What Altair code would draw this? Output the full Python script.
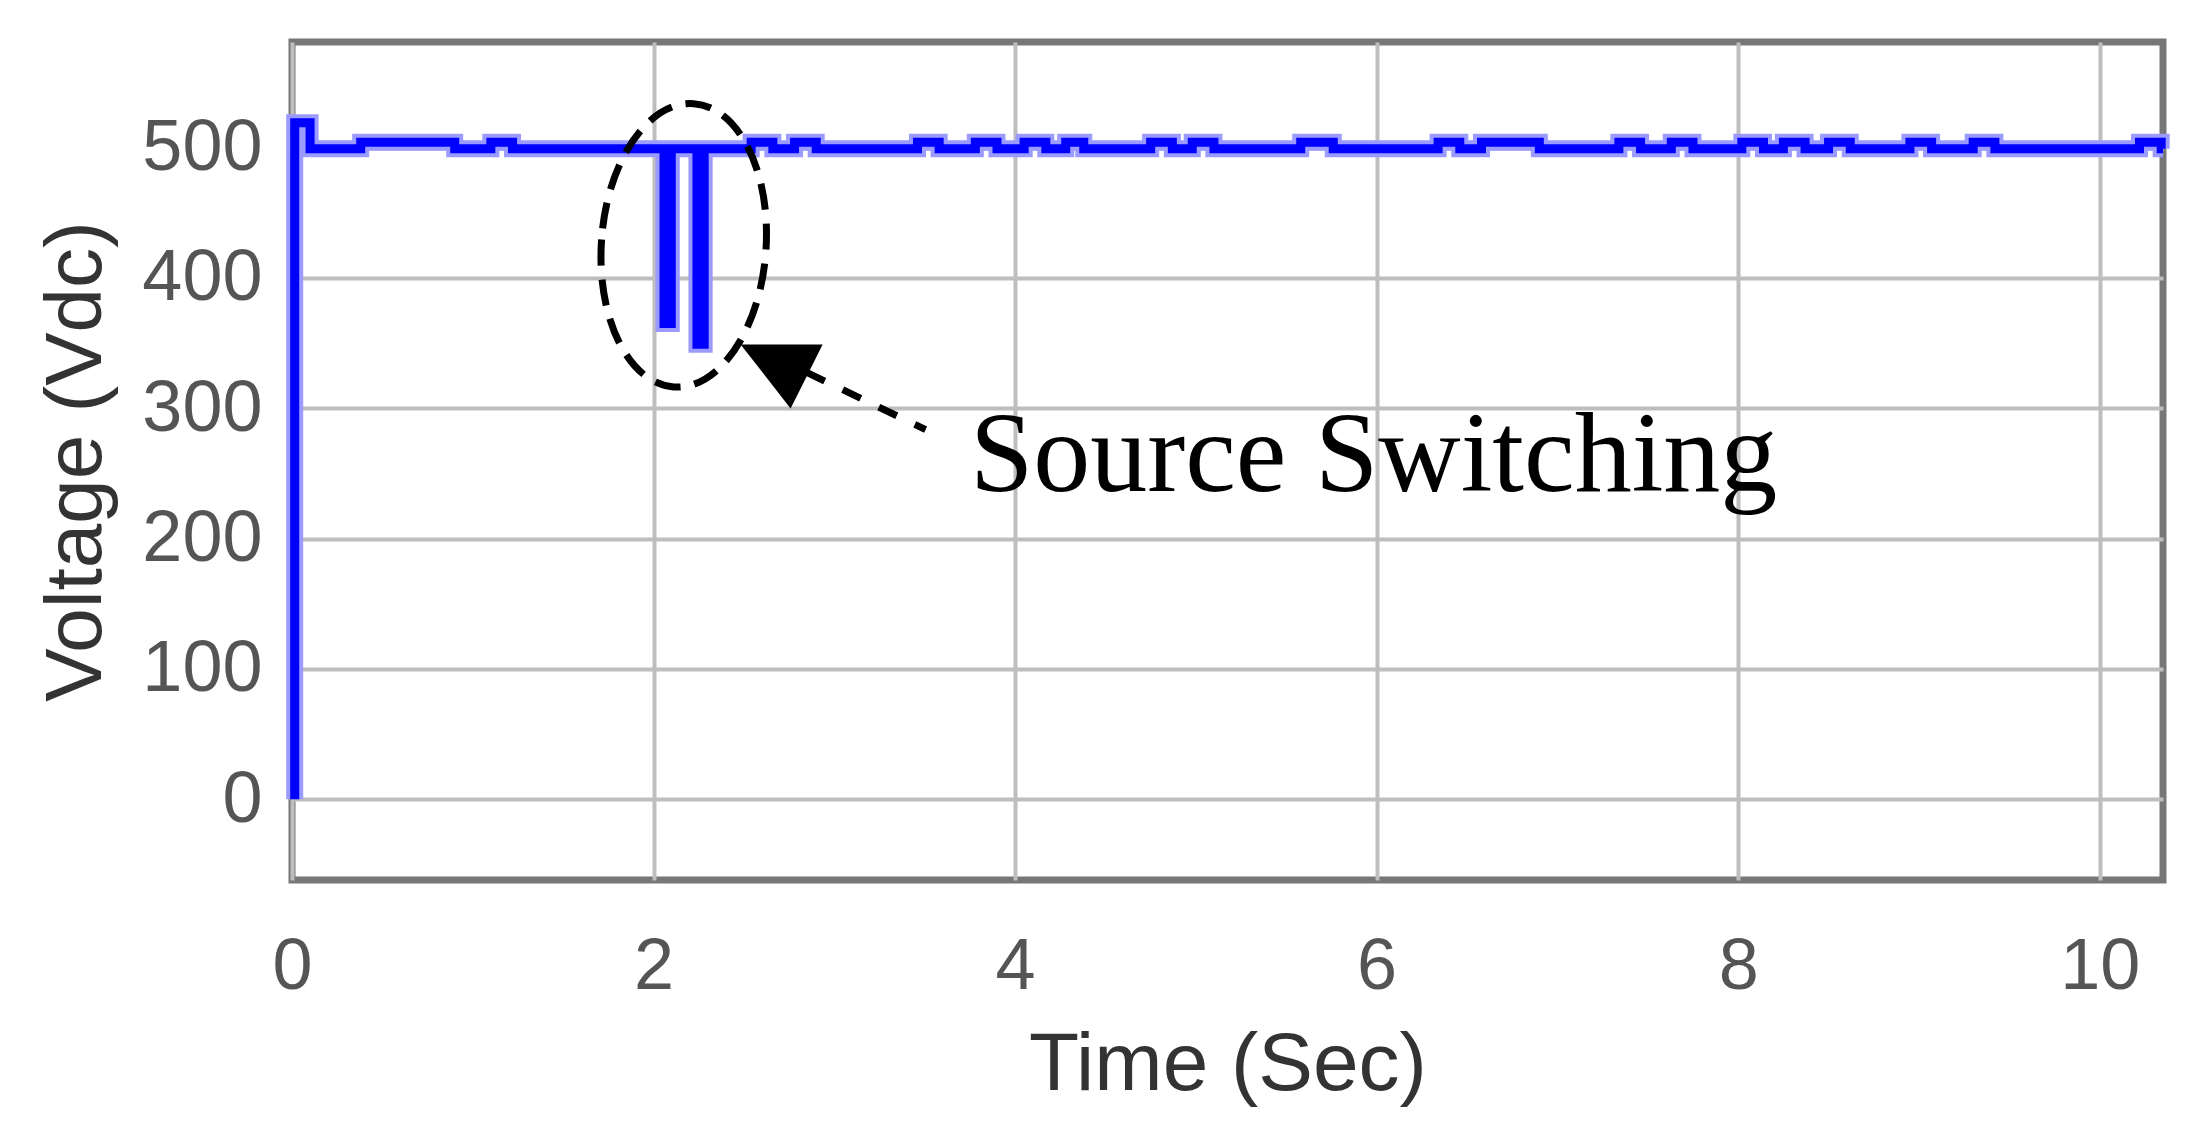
import altair as alt
import pandas as pd

# ---------------- data ----------------
x_ticks = [0, 2, 4, 6, 8, 10]
y_ticks = [0, 100, 200, 300, 400, 500]

# start-up: rise from 0 V to an overshoot, then settle
rise_t = [0.015, 0.015, 0.10, 0.10]
rise_v = [0, 519, 519, 499]
base_v = 499
t_end = 10.35

# small ripple bumps on the DC level (start, end) in seconds
bump_start = [0.38, 1.10, 2.54, 2.78, 3.46, 3.78, 4.05, 4.28, 4.75, 4.98,
              5.58, 6.34, 6.58, 7.34, 7.63, 8.02, 8.25, 8.50, 8.95, 9.30, 10.22]
bump_end = [0.90, 1.22, 2.66, 2.90, 3.58, 3.90, 4.17, 4.38, 4.87, 5.10,
            5.76, 6.46, 6.90, 7.46, 7.75, 8.14, 8.37, 8.62, 9.07, 9.42, 10.34]
bump_v = 504

# source switching dips
dip_start = [2.058, 2.24]
dip_end = [2.098, 2.28]
dip_v = [365, 349]

# annotation anchors (data coordinates)
ellipse_t, ellipse_v = [2.167], [425]
arrow_t = [2.847, 3.505]
arrow_v = [327.5, 283.6]
head_t, head_v = [2.725], [332.6]
label_t, label_v, label_txt = [3.75], [236.7], ["Source Switching"]

# ---------------- build the series ----------------
events = [(a, b, bump_v) for a, b in zip(bump_start, bump_end)] + \
         [(a, b, v) for a, b, v in zip(dip_start, dip_end, dip_v)]
events.sort()
ts, vs = list(rise_t), list(rise_v)
for a, b, v in events:
    ts += [a, a, b, b]
    vs += [base_v, v, v, base_v]
ts.append(t_end)
vs.append(base_v)
df = pd.DataFrame({"t": ts, "v": vs, "i": range(len(ts))})

FONT = "Liberation Sans"
xs = alt.Scale(domain=[0, 10.35], nice=False, zero=False)
ys = alt.Scale(domain=[-62, 581], nice=False, zero=False)

X = alt.X("t:Q", scale=xs, axis=alt.Axis(
    values=x_ticks, title="Time (Sec)", ticks=False, tickSize=0, domain=False,
    grid=True, gridColor="#bebebe", gridWidth=4,
    labelFont=FONT, labelFontSize=72, labelColor="#555555", labelPadding=51,
    titleFont=FONT, titleFontSize=82, titleFontWeight="normal", titleColor="#333333",
    titlePadding=22, labelFlush=False))
Y = alt.Y("v:Q", scale=ys, axis=alt.Axis(
    values=y_ticks, title="Voltage (Vdc)", ticks=False, tickSize=0, domain=False,
    grid=True, gridColor="#bebebe", gridWidth=4,
    labelFont=FONT, labelFontSize=72, labelColor="#555555", labelPadding=30,
    titleFont=FONT, titleFontSize=80, titleFontWeight="normal", titleColor="#333333",
    titlePadding=24, labelFlush=False))

base = alt.Chart(df)
halo = base.mark_line(color="#9a9aff", strokeWidth=17, strokeJoin="miter").encode(
    x=X, y=Y, order="i:Q")
core = base.mark_line(color="#0000ff", strokeWidth=9, strokeJoin="miter").encode(
    x=X, y=Y, order="i:Q")

ellipse_path = "M -0.58 0 A 0.58 1 0 1 0 0.58 0 A 0.58 1 0 1 0 -0.58 0 Z"
ellipse = alt.Chart(pd.DataFrame({"t": ellipse_t, "v": ellipse_v})).mark_point(
    shape=ellipse_path, size=80656, filled=False, stroke="black", strokeWidth=7,
    strokeDash=[26, 14], opacity=1, angle=4).encode(x=X, y=Y)

arrow = alt.Chart(pd.DataFrame({"t": arrow_t, "v": arrow_v})).mark_line(
    color="black", strokeWidth=7, strokeDash=[20, 20]).encode(x=X, y=Y)

head_path = "M -1 -0.485 L 0.864 -0.485 L 0.136 0.97 Z"
head = alt.Chart(pd.DataFrame({"t": head_t, "v": head_v})).mark_point(
    shape=head_path, size=7744, filled=True, color="black", opacity=1).encode(x=X, y=Y)

label = alt.Chart(pd.DataFrame({"t": label_t, "v": label_v, "s": label_txt})).mark_text(
    font="Liberation Serif", fontSize=114, align="left", baseline="alphabetic",
    color="black").encode(x=X, y=Y, text="s:N")

chart = alt.layer(halo, core, ellipse, arrow, head, label).properties(
    width=1871, height=838,
    background="white",
    autosize=alt.AutoSizeParams(type="none"),
    padding={"left": 284, "top": 34, "right": 30, "bottom": 240},
).configure_view(stroke="#777777", strokeWidth=7)

chart.save("out.html", embed_options={"renderer": "svg", "actions": False})
